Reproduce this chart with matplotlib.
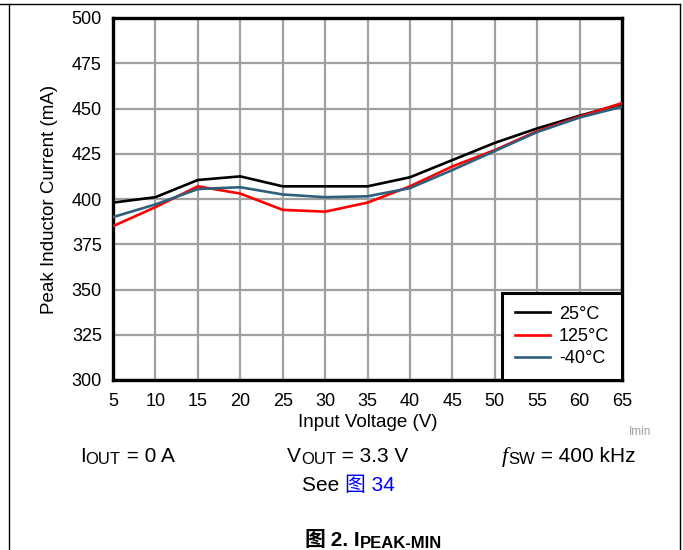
import matplotlib
matplotlib.use("Agg")
import matplotlib.pyplot as plt
from matplotlib.lines import Line2D

plt.rcParams['font.family'] = ['Liberation Sans', 'Noto Sans CJK SC', 'DejaVu Sans']

# data
vin = [5, 10, 15, 20, 25, 30, 35, 40, 45, 50, 55, 60, 65]
i_25c = [398, 401, 410.5, 412.5, 407, 407, 407, 412, 421.5, 431, 439, 446, 452.5]
i_125c = [385, 395.5, 407, 403, 394, 393, 398, 407, 418, 427, 437.5, 445.5, 453]
i_m40c = [390, 397, 405.5, 406.5, 402.5, 401, 401.5, 406, 416, 426.5, 437, 445, 451]
series_names = ["25°C", "125°C", "-40°C"]
series_colors = ["#000000", "#ff0000", "#2e5f7c"]
x_ticks = [5, 10, 15, 20, 25, 30, 35, 40, 45, 50, 55, 60, 65]
y_ticks = [300, 325, 350, 375, 400, 425, 450, 475, 500]

W, H = 683, 550
fig = plt.figure(figsize=(W / 100, H / 100), dpi=100)
ax = fig.add_axes([113 / W, 1 - 380 / H, (622 - 113) / W, (380 - 18) / H])

for vals, name, col in zip([i_25c, i_125c, i_m40c], series_names, series_colors):
    ax.plot(vin, vals, color=col, lw=1.9, label=name, zorder=3)

ax.set_xlim(5, 65)
ax.set_ylim(300, 500)
ax.set_xticks(x_ticks)
ax.set_yticks(y_ticks)
ax.grid(True, color="#a0a0a0", lw=1.6, zorder=1)
ax.set_axisbelow(True)
ax.tick_params(length=0, labelsize=13)
ax.tick_params(axis='y', pad=8)
ax.tick_params(axis='x', pad=9)
for sp in ax.spines.values():
    sp.set_linewidth(2.4)
    sp.set_color("black")
ax.set_xlabel("Input Voltage (V)", fontsize=13.5, labelpad=3)
ax.set_ylabel("Peak Inductor Current (mA)", fontsize=13.5, labelpad=10)

leg = ax.legend(loc="lower right", borderaxespad=0, fontsize=13, fancybox=False,
                framealpha=1, edgecolor="black", handlelength=1.95, handletextpad=0.5,
                labelspacing=0.3, borderpad=0.7)
leg.get_frame().set_linewidth(2.2)
leg.set_zorder(5)

# outer frame
fig.add_artist(Line2D([0, 680 / W], [1 - 4 / H, 1 - 4 / H], color="black", lw=1))
fig.add_artist(Line2D([9 / W, 9 / W], [0, 1 - 4 / H], color="black", lw=1))
fig.add_artist(Line2D([680 / W, 680 / W], [0, 1 - 4 / H], color="black", lw=1))

fig.text(651 / W, 1 - 432 / H, "Imin", fontsize=8.5, color="#a0a0a0", ha="right", va="center")


def chain(x0, y0, pieces):
    # pieces: (string, dy in px, text options), drawn left to right
    prev = None
    for s, dy, kw in pieces:
        yf = 1 - (y0 + dy) / H
        if prev is None:
            prev = fig.text(x0 / W, yf, s, va="baseline", ha="left", **kw)
        else:
            prev = ax.annotate(s, xy=(1, yf), xycoords=(prev, 'figure fraction'),
                               va="baseline", ha="left", annotation_clip=False, **kw)


big = dict(fontsize=15)
sub = dict(fontsize=12)
chain(80, 462, [("I", 0, big), ("OUT", 2, sub), (" = 0 A", 0, big)])
chain(287, 462, [("V", 0, big), ("OUT", 2, sub), (" = 3.3 V", 0, big)])
chain(502, 462, [("f", 0, dict(fontsize=16, style="italic", family="Liberation Serif")),
                 ("SW", 2, sub), (" = 400 kHz", 0, big)])
chain(302, 491, [("See ", 0, big), ("图 34", 0, dict(fontsize=15, color="#0000ff"))])
chain(304, 546, [("图", 0, dict(fontsize=15, weight="bold", family=["Noto Sans CJK SC"])),
                 (" 2. I", 0, dict(fontsize=15, weight="bold")),
                 ("PEAK-MIN", 2.5, dict(fontsize=12, weight="bold"))])

fig.savefig("out.png", dpi=100)
